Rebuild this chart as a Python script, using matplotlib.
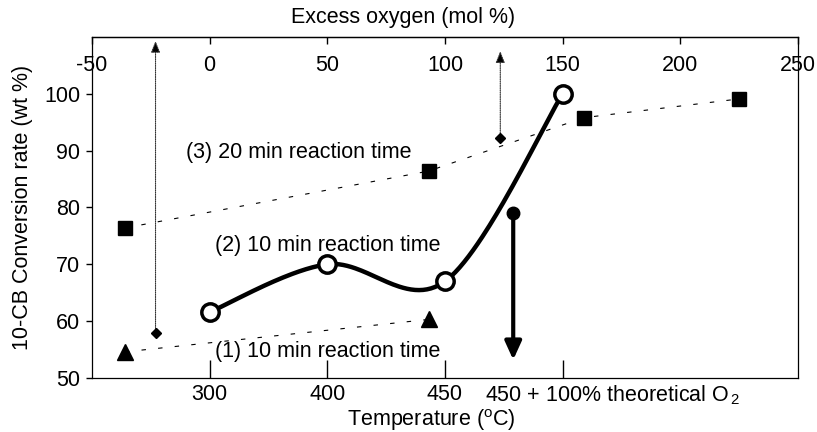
import numpy as np
import matplotlib
matplotlib.use('Agg')
from matplotlib import pyplot as plt

plt.rcParams['font.family'] = ['Liberation Sans', 'DejaVu Sans']
plt.rcParams['mathtext.fontset'] = 'custom'
plt.rcParams['mathtext.rm'] = 'Liberation Sans'
plt.rcParams['mathtext.it'] = 'Liberation Sans:italic'
plt.rcParams['axes.unicode_minus'] = False

# x positions are in "excess oxygen (mol %)" units (top axis)
# (2) 10 min reaction time, temperature series
temp_x = [0, 50, 100, 150]
temp_y = [61.6, 70.0, 67.0, 100.0]
temp_labels = ['300', '400', '450', '']
temp_last_label = '450 + 100% theoretical O$_{\\,2}$'

# (3) 20 min reaction time
sq_x = [-36, 93, 159, 225]
sq_y = [76.4, 86.4, 95.8, 99.1]

# (1) 10 min reaction time
tri_x = [-36, 93]
tri_y = [54.6, 60.3]

# dotted arrows (diamond at the bottom)
arr_x = [-23, 123.5]
arr_lo = [57.9, 92.3]
arr_hi = [109.3, 107.5]

# big arrow
big_x = 129
big_top = 79.1
big_bottom = 53.2

top_ticks = [-50, 0, 50, 100, 150, 200, 250]
y_ticks = [50, 60, 70, 80, 90, 100]

fs = 15.5

# Catmull-Rom smoothing through the circles (like a spreadsheet smooth line)
P = np.column_stack([temp_x, temp_y]).astype(float)
n = len(P)
tang = np.zeros_like(P)
tang[0] = (P[1] - P[0]) / 2.
tang[-1] = (P[-1] - P[-2]) / 2.
for i in range(1, n - 1):
	tang[i] = (P[i + 1] - P[i - 1]) / 2.
t = np.linspace(0, 1, 60)[:, None]
h00 = 2*t**3 - 3*t**2 + 1
h10 = t**3 - 2*t**2 + t
h01 = -2*t**3 + 3*t**2
h11 = t**3 - t**2
curve = np.vstack([h00*P[i] + h10*tang[i] + h01*P[i+1] + h11*tang[i+1] for i in range(n - 1)])

fig = plt.figure(figsize=(8.17, 4.32), dpi=100)
ax = fig.add_axes([0.1126, 0.125, 0.8641, 0.7894])

ax.plot(sq_x, sq_y, color='black', lw=0.8, ls=(0, (4, 11)), marker='s', ms=10.5, mfc='black', mec='black', zorder=3)
ax.plot(tri_x, tri_y, color='black', lw=0.8, ls=(0, (4, 11)), marker='^', ms=11, mfc='black', mec='black', zorder=3)

ax.plot(curve[:, 0], curve[:, 1], color='black', lw=3.2, zorder=4)
ax.plot(temp_x, temp_y, ls='none', marker='o', ms=12.5, mfc='white', mec='black', mew=2.5, zorder=5)

for x, lo, hi in zip(arr_x, arr_lo, arr_hi):
	ax.annotate('', xy=(x, hi), xytext=(x, lo),
		arrowprops=dict(arrowstyle='-|>,head_length=0.7,head_width=0.28', lw=0.8, ls=(0, (1, 1)),
			color='#333333', fc='black', shrinkA=0, shrinkB=0), zorder=3)
ax.plot(arr_x, arr_lo, ls='none', marker='D', ms=5.5, color='black', zorder=4)

ax.annotate('', xy=(big_x, big_bottom), xytext=(big_x, big_top),
	arrowprops=dict(arrowstyle='-|>,head_length=1.1,head_width=0.5', lw=3, color='black',
		shrinkA=0, shrinkB=0), zorder=6)
ax.plot([big_x], [big_top], ls='none', marker='o', ms=9, color='black', zorder=6)

ax.text(-10, 89.6, '(3) 20 min reaction time', fontsize=fs, va='center', ha='left')
ax.text(2.3, 73.3, '(2) 10 min reaction time', fontsize=fs, va='center', ha='left')
ax.text(2.3, 54.6, '(1) 10 min reaction time', fontsize=fs, va='center', ha='left')

ax.set_xlim(-50, 250)
ax.set_ylim(50, 110)
ax.set_yticks(y_ticks)
ax.set_xticks(temp_x)
ax.set_xticklabels(temp_labels)
ax.tick_params(axis='x', direction='in', length=13, width=1, pad=4, labelsize=fs)
ax.tick_params(axis='y', direction='out', length=4.5, width=1, pad=4, labelsize=fs)
for s in ax.spines.values():
	s.set_linewidth(0.9)

ax.text(0.557, -0.05, temp_last_label, transform=ax.transAxes, fontsize=fs, ha='left', va='center')
ax.text(0.48, -0.123, 'Temperature ($^{\\rm o}$C)', transform=ax.transAxes, fontsize=fs, ha='center', va='center')
ax.set_ylabel('10-CB Conversion rate (wt %)', fontsize=fs)
ax.yaxis.set_label_coords(-0.084, 0.5)

sec = ax.secondary_xaxis('top')
sec.set_xticks(top_ticks)
sec.tick_params(direction='in', length=5, width=1, pad=-28, labelsize=fs)
sec.spines['top'].set_linewidth(0.9)
ax.text(0.44, 1.056, 'Excess oxygen (mol %)', transform=ax.transAxes, fontsize=fs, ha='center', va='center')

plt.savefig('out.png', dpi=100)
